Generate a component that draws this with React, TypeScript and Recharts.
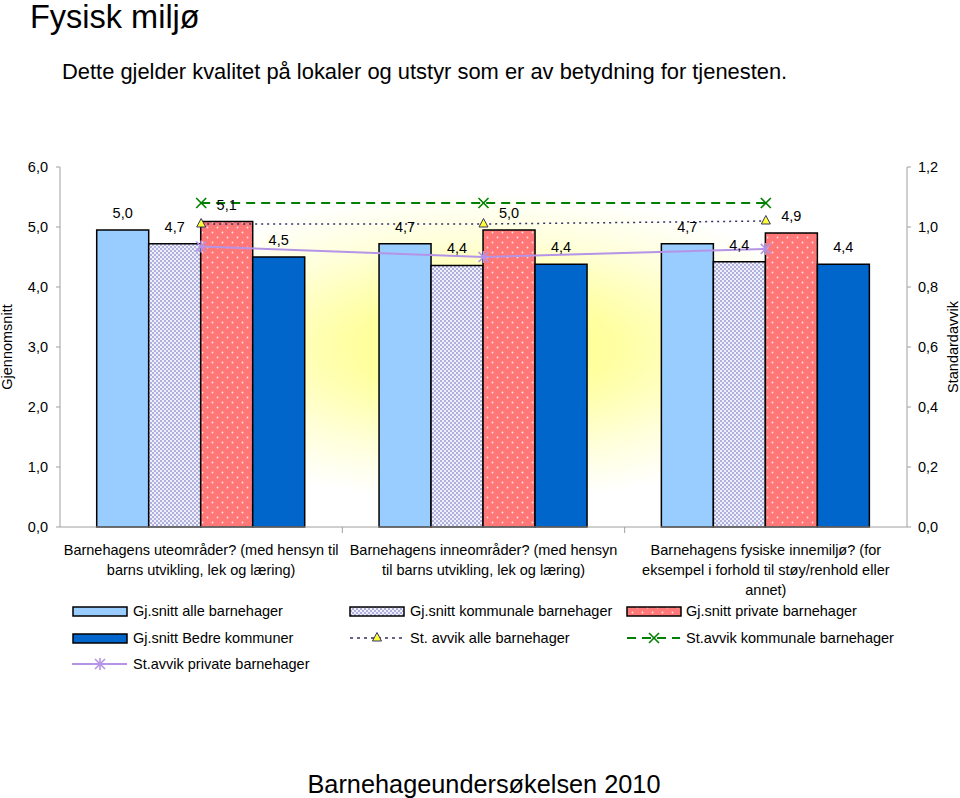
import React from 'react';
import { ComposedChart, Bar, Line, XAxis, YAxis, CartesianGrid, LabelList } from 'recharts';

const FONT = "'Liberation Sans', Arial, Helvetica, sans-serif";

const titleText = 'Fysisk miljø';
const subtitleText = 'Dette gjelder kvalitet på lokaler og utstyr som er av betydning for tjenesten.';
const footerText = 'Barnehageundersøkelsen 2010';
const leftAxisTitle = 'Gjennomsnitt';
const rightAxisTitle = 'Standardavvik';

const categoryLines: string[][] = [
  ['Barnehagens uteområder? (med hensyn til', 'barns utvikling, lek og læring)'],
  ['Barnehagens inneområder? (med hensyn', 'til barns utvikling, lek og læring)'],
  ['Barnehagens fysiske innemiljø? (for', 'eksempel i forhold til støy/renhold eller', 'annet)'],
];
const categories = categoryLines.map((l) => l.join(' '));

const avgAll = [4.95, 4.72, 4.72];
const avgKommunale = [4.72, 4.36, 4.42];
const avgPrivate = [5.09, 4.95, 4.9];
const avgBedre = [4.5, 4.38, 4.38];
const sdAll = [1.01, 1.01, 1.02];
const sdKommunale = [1.08, 1.08, 1.08];
const sdPrivate = [0.935, 0.9, 0.927];

const leftTicks = [0, 1, 2, 3, 4, 5, 6];
const rightTicks = [0, 0.2, 0.4, 0.6, 0.8, 1.0, 1.2];

const names = {
  avgAll: 'Gj.snitt alle barnehager',
  avgKommunale: 'Gj.snitt kommunale barnehager',
  avgPrivate: 'Gj.snitt private barnehager',
  avgBedre: 'Gj.snitt Bedre kommuner',
  sdAll: 'St. avvik alle barnehager',
  sdKommunale: 'St.avvik kommunale barnehager',
  sdPrivate: 'St.avvik private barnehager',
};

const data = categories.map((name, i) => ({
  name,
  avgAll: avgAll[i],
  avgKommunale: avgKommunale[i],
  avgPrivate: avgPrivate[i],
  avgBedre: avgBedre[i],
  sdAll: sdAll[i],
  sdKommunale: sdKommunale[i],
  sdPrivate: sdPrivate[i],
}));

const fmt1 = (v: any) => Number(v).toFixed(1).replace('.', ',');

const C_LIGHT = '#99CCFF';
const C_DARK = '#0066CC';
const C_GREEN = '#008000';
const C_PURPLE = '#B594E8';
const C_DOTTED = '#333366';

const PLOT_L = 60;
const PLOT_R = 907;
const BAND = (PLOT_R - PLOT_L) / categories.length;

const XTick = (props: any) => {
  const { x, y, index } = props;
  const lines = categoryLines[index] || [];
  return (
    <g>
      {index > 0 && (
        <line x1={x - BAND / 2} x2={x - BAND / 2} y1={y - 4} y2={y + 2} stroke="#A0A0A0" />
      )}
      <text textAnchor="middle" fontSize={14.5} fill="#000" fontFamily={FONT}>
        {lines.map((l, i) => (
          <tspan key={i} x={x} y={y + 24 + i * 20}>
            {l}
          </tspan>
        ))}
      </text>
    </g>
  );
};

const TriangleDot = ({ cx, cy }: any) => (
  <polygon
    points={`${cx},${cy - 5.5} ${cx - 4.5},${cy + 3} ${cx + 4.5},${cy + 3}`}
    fill="#FFFF33"
    stroke={C_DOTTED}
    strokeWidth={1}
  />
);

const XDot = ({ cx, cy }: any) => (
  <g stroke={C_GREEN} strokeWidth={1.6}>
    <line x1={cx - 5} y1={cy - 5} x2={cx + 5} y2={cy + 5} />
    <line x1={cx - 5} y1={cy + 5} x2={cx + 5} y2={cy - 5} />
  </g>
);

const StarDot = ({ cx, cy }: any) => (
  <g stroke={C_PURPLE} strokeWidth={1.6}>
    <line x1={cx - 5} y1={cy - 5} x2={cx + 5} y2={cy + 5} />
    <line x1={cx - 5} y1={cy + 5} x2={cx + 5} y2={cy - 5} />
    <line x1={cx} y1={cy - 6} x2={cx} y2={cy + 6} />
  </g>
);

const labelProps = { position: 'top' as const, offset: 12, formatter: fmt1, fill: '#000', fontSize: 14.5, fontFamily: FONT };

const LegendRect = ({ x, y, fill }: { x: number; y: number; fill: string }) => (
  <rect x={x} y={y} width={54} height={9} fill={fill} stroke="#000" strokeWidth={1.5} />
);

export default function App() {
  const legendText = { fontSize: 14.5, fill: '#000', fontFamily: FONT } as const;
  return (
    <div style={{ position: 'absolute', left: 0, top: 0, width: 960, height: 798, background: '#fff', fontFamily: FONT }}>
      <div style={{ position: 'absolute', left: 0, top: 0 }}>
        <ComposedChart
          width={960}
          height={620}
          data={data}
          margin={{ top: 167, right: 8, bottom: 33, left: 8 }}
          barCategoryGap="13%"
          barGap={0}
          style={{ fontFamily: FONT }}
        >
          <defs>
            <radialGradient id="bgGrad" cx="50%" cy="50%" r="43%">
              <stop offset="0%" stopColor="#FFFF88" />
              <stop offset="35%" stopColor="#FFFFA0" />
              <stop offset="70%" stopColor="#FFFFDA" />
              <stop offset="100%" stopColor="#FFFFFF" />
            </radialGradient>
            <pattern id="checkPat" width="4" height="4" patternUnits="userSpaceOnUse">
              <rect width="4" height="4" fill="#F0F0FB" />
              <rect x="0" y="0" width="2" height="2" fill="#B0B0DE" />
              <rect x="2" y="2" width="2" height="2" fill="#B0B0DE" />
            </pattern>
            <pattern id="dotPat" width="10" height="10" patternUnits="userSpaceOnUse">
              <rect width="10" height="10" fill="#FF7777" />
              <circle cx="2.5" cy="2.5" r="0.9" fill="#FFE4E4" />
              <circle cx="7.5" cy="7.5" r="0.9" fill="#FFE4E4" />
            </pattern>
          </defs>
          <CartesianGrid yAxisId="left" horizontal={false} vertical={false} fill="url(#bgGrad)" stroke="none" />
          <XAxis
            dataKey="name"
            interval={0}
            height={60}
            tickLine={false}
            tickSize={4}
            tickMargin={0}
            axisLine={{ stroke: '#A0A0A0' }}
            tick={<XTick />}
          />
          <YAxis
            yAxisId="left"
            width={52}
            domain={[0, 6]}
            ticks={leftTicks}
            tickFormatter={fmt1}
            tickSize={4}
            tickMargin={8}
            stroke="#A0A0A0"
            tick={{ fill: '#000', fontSize: 14.5, fontFamily: FONT }}
          />
          <YAxis
            yAxisId="right"
            orientation="right"
            width={45}
            domain={[0, 1.2]}
            ticks={rightTicks}
            tickFormatter={fmt1}
            tickSize={4}
            tickMargin={7}
            stroke="#A0A0A0"
            tick={{ fill: '#000', fontSize: 14.5, fontFamily: FONT, textAnchor: 'start' }}
          />
          <Bar yAxisId="left" dataKey="avgAll" name={names.avgAll} fill={C_LIGHT} stroke="#000" strokeWidth={1.5} isAnimationActive={false}>
            <LabelList dataKey="avgAll" {...labelProps} />
          </Bar>
          <Bar yAxisId="left" dataKey="avgKommunale" name={names.avgKommunale} fill="url(#checkPat)" stroke="#000" strokeWidth={1.5} isAnimationActive={false}>
            <LabelList dataKey="avgKommunale" {...labelProps} />
          </Bar>
          <Bar yAxisId="left" dataKey="avgPrivate" name={names.avgPrivate} fill="url(#dotPat)" stroke="#000" strokeWidth={1.5} isAnimationActive={false}>
            <LabelList dataKey="avgPrivate" {...labelProps} />
          </Bar>
          <Bar yAxisId="left" dataKey="avgBedre" name={names.avgBedre} fill={C_DARK} stroke="#000" strokeWidth={1.5} isAnimationActive={false}>
            <LabelList dataKey="avgBedre" {...labelProps} />
          </Bar>
          <Line
            yAxisId="right"
            dataKey="sdAll"
            name={names.sdAll}
            stroke={C_DOTTED}
            strokeWidth={1.5}
            strokeDasharray="2 4"
            dot={(p: any) => <TriangleDot key={`t${p.index}`} {...p} />}
            activeDot={false}
            isAnimationActive={false}
          />
          <Line
            yAxisId="right"
            dataKey="sdKommunale"
            name={names.sdKommunale}
            stroke={C_GREEN}
            strokeWidth={1.8}
            strokeDasharray="9 6"
            dot={(p: any) => <XDot key={`x${p.index}`} {...p} />}
            activeDot={false}
            isAnimationActive={false}
          />
          <Line
            yAxisId="right"
            dataKey="sdPrivate"
            name={names.sdPrivate}
            stroke={C_PURPLE}
            strokeWidth={2}
            dot={(p: any) => <StarDot key={`s${p.index}`} {...p} />}
            activeDot={false}
            isAnimationActive={false}
          />
        </ComposedChart>
      </div>
      <svg width={960} height={798} style={{ position: 'absolute', left: 0, top: 0, pointerEvents: 'none' }}>
        <text x={30} y={28} fontSize={32.5} fill="#000" fontFamily={FONT}>{titleText}</text>
        <text x={62} y={79} fontSize={21.9} fill="#000" fontFamily={FONT}>{subtitleText}</text>
        <text x={484} y={793} fontSize={25.3} fill="#000" fontFamily={FONT} textAnchor="middle">{footerText}</text>
        <text transform="translate(12,347) rotate(-90)" fontSize={14.5} fill="#000" fontFamily={FONT} textAnchor="middle">{leftAxisTitle}</text>
        <text transform="translate(958,347) rotate(-90)" fontSize={14.5} fill="#000" fontFamily={FONT} textAnchor="middle">{rightAxisTitle}</text>

        {/* legend row 1 */}
        <LegendRect x={73} y={607} fill={C_LIGHT} />
        <text x={133} y={616} {...legendText}>{names.avgAll}</text>
        <LegendRect x={350} y={607} fill="url(#checkPat)" />
        <text x={410} y={616} {...legendText}>{names.avgKommunale}</text>
        <LegendRect x={627} y={607} fill="url(#dotPat)" />
        <text x={686} y={616} {...legendText}>{names.avgPrivate}</text>

        {/* legend row 2 */}
        <LegendRect x={73} y={634} fill={C_DARK} />
        <text x={133} y={643} {...legendText}>{names.avgBedre}</text>
        <line x1={350} x2={402} y1={638} y2={638} stroke={C_DOTTED} strokeWidth={1.5} strokeDasharray="3 4" />
        <TriangleDot cx={377} cy={638} />
        <text x={410} y={643} {...legendText}>{names.sdAll}</text>
        <line x1={627} x2={680} y1={638} y2={638} stroke={C_GREEN} strokeWidth={1.8} strokeDasharray="9 6" />
        <XDot cx={654} cy={638} />
        <text x={686} y={643} {...legendText}>{names.sdKommunale}</text>

        {/* legend row 3 */}
        <line x1={72} x2={127} y1={664} y2={664} stroke={C_PURPLE} strokeWidth={2} />
        <StarDot cx={100} cy={664} />
        <text x={133} y={669} {...legendText}>{names.sdPrivate}</text>
      </svg>
    </div>
  );
}
